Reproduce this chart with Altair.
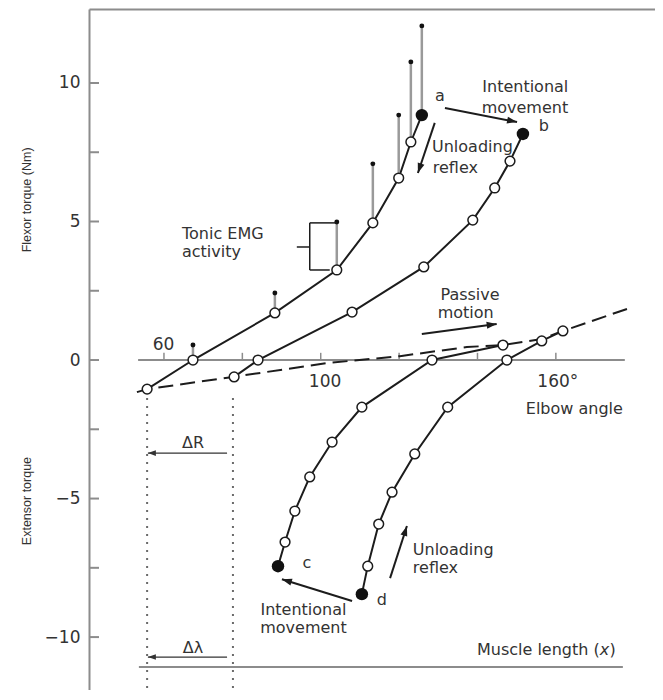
import math
import altair as alt
import pandas as pd

# ---------------- data (elbow angle in degrees, torque in Nm) ----------------
curve_a_deg = [55.7, 67.4, 88.3, 104.1, 113.3, 119.9, 123.0, 125.8]
curve_a_nm = [-1.05, 0.0, 1.70, 3.25, 4.95, 6.57, 7.87, 8.84]
curve_b_deg = [77.9, 84.0, 108.0, 126.3, 138.8, 144.4, 148.3, 151.6]
curve_b_nm = [-0.61, 0.0, 1.73, 3.36, 5.05, 6.21, 7.18, 8.16]
curve_c_deg = [146.5, 128.4, 110.5, 102.9, 97.2, 93.4, 90.9, 89.1]
curve_c_nm = [0.54, 0.0, -1.70, -2.96, -4.22, -5.45, -6.57, -7.44]
curve_d_deg = [161.8, 156.4, 147.5, 132.4, 124.0, 118.2, 114.8, 112.0, 110.5]
curve_d_nm = [1.05, 0.69, 0.0, -1.70, -3.39, -4.77, -5.92, -7.44, -8.45]
passive_deg = [53.1, 55.7, 77.6, 101.6, 120.2, 137.3, 146.5, 156.4, 161.8, 178.9]
passive_nm = [-1.16, -1.05, -0.61, -0.11, 0.14, 0.47, 0.54, 0.76, 1.05, 1.88]
emg_top_nm = [0.54, 2.42, 4.98, 7.08, 8.84, 10.76, 12.06]

y_tick_values = [10, 5, 0, -5, -10]
y_minor_ticks = [10, 7.5, 5, 2.5, 0, -2.5, -5, -7.5, -10]
x_tick_values = [60, 80, 100, 120, 140, 160]
muscle_length_nm = -11.08
delta_deg = [55.7, 77.6]

# ---------------- layout ----------------
W, H = 566, 681
X_DOM = [40.87, 185.3]
Y_DOM = [-11.91, 12.67]
PX_DEG = W / (X_DOM[1] - X_DOM[0])
PX_NM = H / (Y_DOM[1] - Y_DOM[0])

INK = "#1c1c1c"
TXT = "#333333"
AX = "#8c8c8c"
FONT = "DejaVu Sans"

xs = alt.Scale(domain=X_DOM, nice=False, zero=False)
ys = alt.Scale(domain=Y_DOM, nice=False, zero=False)
xaxis = alt.Axis(orient="top", labels=False, ticks=False, grid=False, domain=True,
                 domainColor=AX, domainWidth=2)
yaxis = alt.Axis(values=y_tick_values, ticks=False, tickSize=0, grid=False, domain=True,
                 domainColor=AX, domainWidth=2, labelFont=FONT, labelFontSize=17,
                 labelColor=TXT, labelPadding=9)


def X(f="x"):
    return alt.X(f + ":Q", scale=xs, axis=xaxis, title=None)


def Y(f="y"):
    return alt.Y(f + ":Q", scale=ys, axis=yaxis, title=None)


# curves
rows = []
for name, xd, yd in [("A", curve_a_deg, curve_a_nm), ("B", curve_b_deg, curve_b_nm),
                     ("C", curve_c_deg, curve_c_nm), ("D", curve_d_deg, curve_d_nm)]:
    n = len(xd)
    for i, (a, b) in enumerate(zip(xd, yd)):
        rows.append({"x": a, "y": b, "curve": name, "filled": i == n - 1})
curves = pd.DataFrame(rows)
passive = pd.DataFrame({"x": passive_deg, "y": passive_nm})

emg = pd.DataFrame({"x": curve_a_deg[1:], "y": curve_a_nm[1:], "y2": emg_top_nm})

base = alt.Chart(curves)
lines = base.mark_line(color=INK, strokeWidth=2).encode(x=X(), y=Y(), detail="curve:N")
passive_line = alt.Chart(passive).mark_line(color=INK, strokeWidth=2, strokeDash=[15, 7]).encode(x=X(), y=Y())
stems = alt.Chart(emg).mark_rule(color="#9a9a9a", strokeWidth=2.5).encode(x=X(), y=Y(), y2="y2:Q")
stem_dots = alt.Chart(emg).mark_circle(color="#111111", size=24, opacity=1).encode(x=X(), y=Y("y2"))
open_pts = base.transform_filter("!datum.filled").mark_point(
    shape="circle", filled=True, fill="white", stroke=INK, strokeWidth=1.5, size=95, opacity=1
).encode(x=X(), y=Y())
filled_pts = base.transform_filter("datum.filled").mark_circle(color="#111111", size=155, opacity=1).encode(x=X(), y=Y())

# axis-like lines drawn inside the plot
hlines = pd.DataFrame({"x": [53.4, 53.6], "x2": [177.6, 177.1], "y": [0, muscle_length_nm]})
hline_layer = alt.Chart(hlines).mark_rule(color=AX, strokeWidth=2).encode(x=X(), x2="x2:Q", y=Y())
xt = pd.DataFrame({"x": x_tick_values, "y": [0] * len(x_tick_values), "y2": [0.26] * len(x_tick_values)})
xtick_layer = alt.Chart(xt).mark_rule(color=AX, strokeWidth=1.5).encode(x=X(), y=Y(), y2="y2:Q")
yt = pd.DataFrame({"y": y_minor_ticks, "x": [X_DOM[0]] * len(y_minor_ticks),
                   "x2": [X_DOM[0] + 10 / PX_DEG] * len(y_minor_ticks)})
ytick_layer = alt.Chart(yt).mark_rule(color=AX, strokeWidth=2).encode(x=X(), x2="x2:Q", y=Y())
dots = pd.DataFrame({"x": delta_deg, "y": [-1.37, -1.37], "y2": [Y_DOM[0], Y_DOM[0]]})
dotted_layer = alt.Chart(dots).mark_rule(color="#6a6a6a", strokeWidth=2, strokeDash=[2, 6]).encode(
    x=X(), y=Y(), y2="y2:Q")

# bracket of "Tonic EMG activity"
bracket = pd.DataFrame({
    "x": [97.2, 97.2, 97.2, 93.9],
    "x2": [97.2, 104.1, 102.3, 97.2],
    "y": [4.95, 4.95, 3.25, 4.08],
    "y2": [3.25, 4.95, 3.25, 4.08],
})
bracket_layer = alt.Chart(bracket).mark_rule(color=INK, strokeWidth=1.5).encode(
    x=X(), x2="x2:Q", y=Y(), y2="y2:Q")

# arrows: start (x1,y1) -> end (x2,y2)
arrow_x1 = [131.7, 129.1, 125.8, 108.0, 117.7]
arrow_y1 = [9.10, 8.56, 0.94, -8.70, -7.87]
arrow_x2 = [150.1, 124.8, 144.9, 90.1, 122.0]
arrow_y2 = [8.59, 6.75, 1.30, -7.91, -5.99]
thin_x1 = [76.1, 76.1]
thin_y1 = [-3.36, -10.72]
thin_x2 = [55.9, 55.9]
thin_y2 = [-3.36, -10.72]


def arrow_df(x1, y1, x2, y2):
    ang = [math.degrees(math.atan2(-(b2 - b1) * PX_NM, (a2 - a1) * PX_DEG)) % 360
           for a1, b1, a2, b2 in zip(x1, y1, x2, y2)]
    return pd.DataFrame({"x": x1, "y": y1, "x2": x2, "y2": y2, "ang": ang})


HEAD = "M0,0L-2,-0.7L-2,0.7Z"
arr = arrow_df(arrow_x1, arrow_y1, arrow_x2, arrow_y2)
thin = arrow_df(thin_x1, thin_y1, thin_x2, thin_y2)
arrow_shaft = alt.Chart(arr).mark_rule(color=INK, strokeWidth=2).encode(x=X(), x2="x2:Q", y=Y(), y2="y2:Q")
arrow_head = alt.Chart(arr).mark_point(shape=HEAD, filled=True, color=INK, size=100, opacity=1, strokeWidth=0).encode(
    x=X("x2"), y=Y("y2"), angle=alt.Angle("ang:Q", scale=None))
thin_shaft = alt.Chart(thin).mark_rule(color="#333333", strokeWidth=1.2).encode(x=X(), x2="x2:Q", y=Y(), y2="y2:Q")
thin_head = alt.Chart(thin).mark_point(shape=HEAD, filled=True, color="#333333", size=64, opacity=1, strokeWidth=0).encode(
    x=X("x2"), y=Y("y2"), angle=alt.Angle("ang:Q", scale=None))

# texts
axis_text = ["60", "100", "160°"]
axis_x = [59.9, 101.1, 160.5]
axis_y = [0.36, -0.97, -0.97]
center_text = ["Intentional", "movement", "a", "b", "Passive", "motion",
               "ΔR", "Δλ", "c", "d", "Intentional", "movement"]
center_x = [152.2, 152.1, 130.4, 156.9, 138.1, 137.0,
            67.4, 67.4, 96.5, 115.6, 95.6, 95.6]
center_y = [9.68, 8.92, 9.35, 8.26, 2.17, 1.52,
            -3.18, -10.58, -7.49, -8.84, -9.21, -9.86]
left_text = ["Unloading", "reflex", "Unloading", "reflex", "Tonic EMG", "activity"]
left_x = [128.4, 128.6, 123.5, 123.5, 64.6, 64.6]
left_y = [7.51, 6.75, -7.04, -7.69, 4.37, 3.72]
right_text = ["Elbow angle", "Muscle length (", ")"]
right_x = [177.1, 171.2, 175.3]
right_y = [-1.95, -10.65, -10.65]
italic_text = ["x"]
italic_x = [173.6]
italic_y = [-10.65]
title_text = ["Flexor torque (Nm)", "Extensor torque"]
title_x = [25.05, 25.05]
title_y = [5.78, -5.09]


def text_layer(t, x, y, align, size=16, **kw):
    df = pd.DataFrame({"x": x, "y": y, "t": t})
    return alt.Chart(df).mark_text(align=align, baseline="alphabetic", font=FONT, fontSize=size,
                                   color=TXT, **kw).encode(x=X(), y=Y(), text="t:N")


t_axis = text_layer(axis_text, axis_x, axis_y, "center", size=17)
t_center = text_layer(center_text, center_x, center_y, "center")
t_left = text_layer(left_text, left_x, left_y, "left")
t_right = text_layer(right_text, right_x, right_y, "right")
t_italic = text_layer(italic_text, italic_x, italic_y, "right", fontStyle="italic")
t_title = alt.Chart(pd.DataFrame({"x": title_x, "y": title_y, "t": title_text})).mark_text(
    align="center", baseline="middle", font="Liberation Sans", fontSize=12.5, color=TXT, angle=270
).encode(x=X(), y=Y(), text="t:N")

chart = alt.layer(
    hline_layer, xtick_layer, ytick_layer, dotted_layer,
    passive_line, lines, stems, stem_dots, bracket_layer,
    arrow_shaft, arrow_head, thin_shaft, thin_head,
    open_pts, filled_pts,
    t_axis, t_center, t_left, t_right, t_italic, t_title,
).properties(
    width=W, height=H,
    autosize=alt.AutoSizeParams(type="none"),
    padding={"left": 81, "top": 1, "right": 0, "bottom": 0},
    background="white",
).configure_view(stroke=None)

chart.save("out.html", embed_options={"renderer": "svg", "actions": False})
